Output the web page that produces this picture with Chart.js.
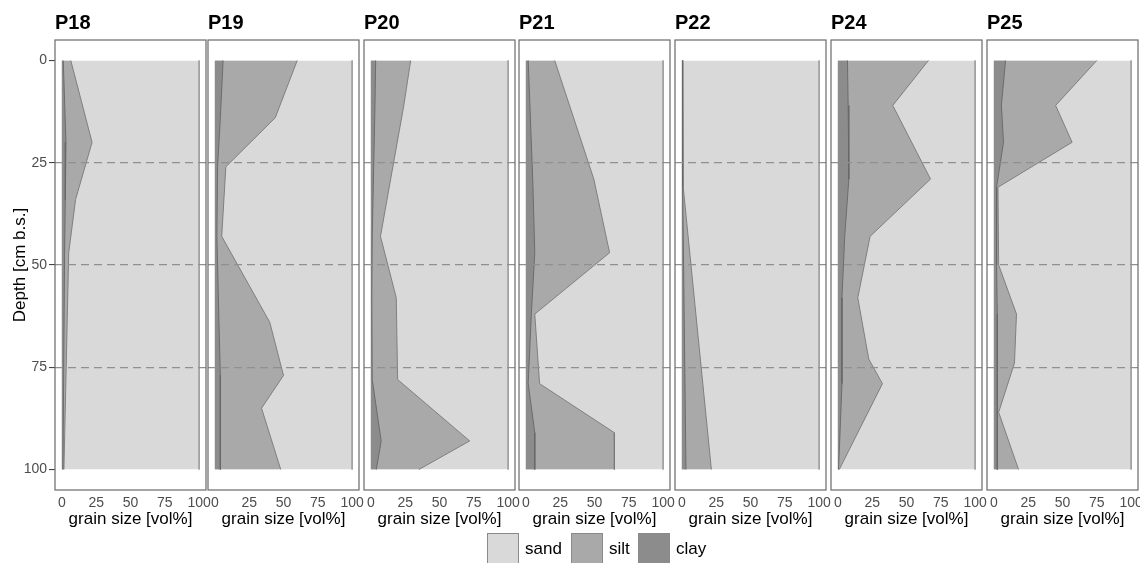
<!DOCTYPE html>
<html>
<head>
<meta charset="utf-8">
<script src="https://cdn.jsdelivr.net/npm/chart.js@4.4.0/dist/chart.umd.min.js"></script>
<style>
  body { margin: 0; background: #fff; width: 1140px; height: 563px; overflow: hidden; position: relative;
         font-family: 'Liberation Sans', Arial, sans-serif; }
  canvas { position: absolute; top: 0; }
  .key { position: absolute; top: 533px; width: 32px; height: 32px; box-sizing: border-box; border: 1px solid #8a8a8a; }
  .lab { position: absolute; top: 539px; font-size: 17px; line-height: 20px; color: #000; }
</style>
</head>
<body>
<script>
// tick labels shared by both axes
const tickValues = [0, 25, 50, 75, 100];
const dashedDepths = [25, 50, 75];

const profileNames = ['P18', 'P19', 'P20', 'P21', 'P22', 'P24', 'P25'];

// depth [cm b.s.] and grain size fractions [vol%] per profile
const depthP18 = [0, 20, 34, 47, 100];
const clayP18 = [1, 3, 2.5, 2, 0.8];
const siltP18 = [5.5, 19, 7.5, 3, 0.7];
const sandP18 = [93.5, 78, 90, 95, 98.5];

const depthP19 = [0, 14, 26, 43, 64, 77, 85, 100];
const clayP19 = [6, 4, 2, 1.5, 3, 4, 4, 4];
const siltP19 = [54, 40, 6, 3.5, 37, 46, 30, 44];
const sandP19 = [40, 56, 92, 95, 60, 50, 66, 52];

const depthP20 = [0, 11, 43, 58, 78, 93, 100];
const clayP20 = [3.5, 3, 1, 0.7, 1, 7.5, 4];
const siltP20 = [25.5, 21, 6, 17.8, 18.5, 64.5, 31];
const sandP20 = [71, 76, 93, 81.5, 80.5, 28, 65];

const depthP21 = [0, 29, 47, 62, 79, 91, 100];
const clayP21 = [1.7, 5, 6.5, 4, 1.7, 6.5, 6.5];
const siltP21 = [19.3, 44.5, 54.5, 2.5, 8.3, 58, 58];
const sandP21 = [79, 50.5, 39, 93.5, 90, 35.5, 35.5];

const depthP22 = [0, 31, 100];
const clayP22 = [0.5, 0.6, 3];
const siltP22 = [0.2, 0.4, 18.5];
const sandP22 = [99.3, 99, 78.5];

const depthP24 = [0, 11, 29, 43, 58, 73, 79, 100];
const clayP24 = [7, 7.5, 8, 5, 3, 3, 3, 0.5];
const siltP24 = [59, 32.5, 59.5, 18.5, 11.5, 19.5, 29.5, 0.5];
const sandP24 = [34, 60, 32.5, 76.5, 85.5, 77.5, 67.5, 99];

const depthP25 = [0, 11, 20, 31, 50, 62, 74, 86, 100];
const clayP25 = [8.5, 5.5, 7, 2, 2, 2.5, 2.5, 2.5, 2.5];
const siltP25 = [66.5, 39.5, 50, 1, 1.5, 14, 12.5, 1, 15.5];
const sandP25 = [25, 55, 43, 97, 96.5, 83.5, 85, 96.5, 82];

const profileData = [
  [depthP18, clayP18, siltP18, sandP18],
  [depthP19, clayP19, siltP19, sandP19],
  [depthP20, clayP20, siltP20, sandP20],
  [depthP21, clayP21, siltP21, sandP21],
  [depthP22, clayP22, siltP22, sandP22],
  [depthP24, clayP24, siltP24, sandP24],
  [depthP25, clayP25, siltP25, sandP25]
];

const sandColor = '#d9d9d9';
const siltColor = '#a9a9a9';
const clayColor = '#8c8c8c';

// left edge of each panel frame
const frameLeft = [55, 208, 364, 519, 675, 831, 987];

Chart.defaults.font.family = "'Liberation Sans', Arial, sans-serif";

const framePlugin = {
  id: 'frame',
  afterDraw(chart) {
    const { ctx, chartArea: a } = chart;
    ctx.save();
    ctx.strokeStyle = '#6a6a6a';
    ctx.lineWidth = 1.2;
    ctx.strokeRect(a.left, a.top, a.right - a.left, a.bottom - a.top);
    ctx.restore();
  }
};

function fixedTicks(scale) {
  scale.ticks = tickValues.map(v => ({ value: v }));
}

function drawPanel(i) {
  const [depth, clay, silt, sand] = profileData[i];
  const first = i === 0;

  const canvas = document.createElement('canvas');
  canvas.width = 226;
  canvas.height = 530;
  canvas.style.left = (frameLeft[i] - 55) + 'px';
  document.body.appendChild(canvas);

  const clayPts = depth.map((d, k) => ({ x: clay[k], y: d }));
  const siltPts = depth.map((d, k) => ({ x: clay[k] + silt[k], y: d }));
  const sandPts = depth.map((d, k) => ({ x: clay[k] + silt[k] + sand[k], y: d }));

  new Chart(canvas.getContext('2d'), {
    type: 'line',
    data: {
      datasets: [
        { label: 'clay', data: clayPts, backgroundColor: clayColor, borderColor: '#666', fill: 'origin' },
        { label: 'silt', data: siltPts, backgroundColor: siltColor, borderColor: '#787878', fill: 'origin' },
        { label: 'sand', data: sandPts, backgroundColor: sandColor, borderColor: '#9c9c9c', fill: 'origin' }
      ]
    },
    options: {
      responsive: false,
      animation: false,
      indexAxis: 'y',
      layout: { padding: { left: 0, right: 20, top: 0, bottom: 0 } },
      elements: {
        point: { radius: 0 },
        line: { borderWidth: 0.9, tension: 0 }
      },
      plugins: {
        legend: { display: false },
        tooltip: { enabled: false },
        title: {
          display: true,
          text: profileNames[i],
          align: 'start',
          fullSize: false,
          color: '#000',
          font: { size: 20, weight: 'bold' },
          padding: { top: 11, bottom: 5 }
        }
      },
      scales: {
        x: {
          type: 'linear',
          min: -5,
          max: 105,
          afterBuildTicks: fixedTicks,
          afterFit: s => { s.height = 40; },
          grid: { display: false, drawTicks: false },
          border: { display: false },
          ticks: { autoSkip: false, maxRotation: 0, padding: 5, color: '#4d4d4d', font: { size: 14 } },
          title: {
            display: true,
            text: 'grain size [vol%]',
            color: '#000',
            font: { size: 17 },
            padding: { top: 0, bottom: 0 }
          }
        },
        y: {
          type: 'linear',
          reverse: true,
          min: -5,
          max: 105,
          afterBuildTicks: fixedTicks,
          afterFit: s => { s.width = 55; },
          border: { display: false, dash: [8, 5] },
          grid: {
            z: 1,
            color: c => dashedDepths.includes(c.tick.value) ? '#909090' : 'rgba(0,0,0,0)',
            lineWidth: 1.2,
            drawTicks: first,
            tickLength: 6,
            tickColor: '#333',
            tickWidth: 1,
            tickBorderDash: []
          },
          ticks: { display: first, padding: 2, color: '#4d4d4d', font: { size: 14 } },
          title: {
            display: first,
            text: 'Depth [cm b.s.]',
            color: '#000',
            font: { size: 17 },
            padding: { top: 10, bottom: 0 }
          }
        }
      }
    },
    plugins: [framePlugin]
  });
}

profileNames.forEach((name, i) => drawPanel(i));
</script>
<div class="key" style="left:487px; background:#d9d9d9;"></div>
<div class="lab" style="left:525px;">sand</div>
<div class="key" style="left:571px; background:#a9a9a9;"></div>
<div class="lab" style="left:609px;">silt</div>
<div class="key" style="left:638px; background:#8c8c8c;"></div>
<div class="lab" style="left:676px;">clay</div>
</body>
</html>
